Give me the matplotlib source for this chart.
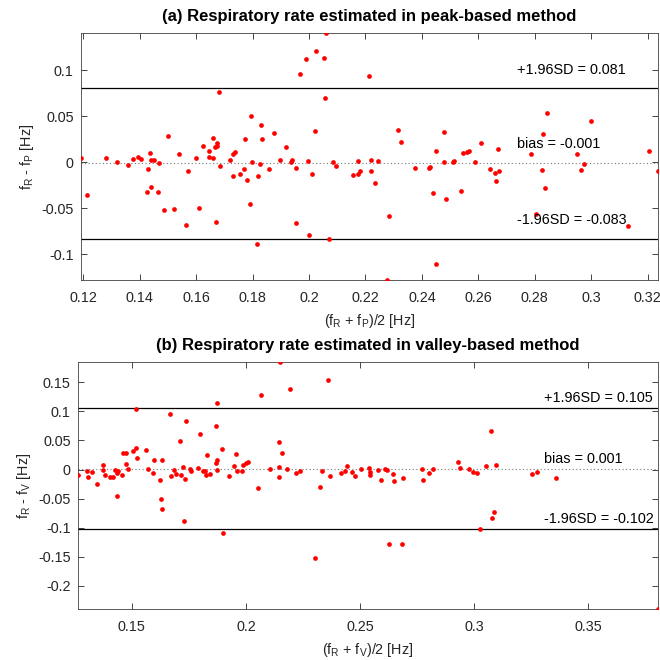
import matplotlib
matplotlib.use("Agg")
import matplotlib.pyplot as plt
from matplotlib.ticker import FuncFormatter

plt.rcParams['font.family'] = ['Liberation Sans', 'DejaVu Sans']
plt.rcParams['mathtext.fontset'] = 'custom'
plt.rcParams['mathtext.rm'] = 'Liberation Sans'
plt.rcParams['mathtext.it'] = 'Liberation Sans'

# ---- (a) peak-based ----
peak_mean = [0.1191, 0.1214, 0.128, 0.132, 0.136, 0.1375, 0.1395, 0.1404, 0.1435, 0.1429,
             0.144, 0.145, 0.1425, 0.144, 0.1464, 0.147, 0.1485, 0.15, 0.152, 0.1539,
             0.157, 0.1564, 0.16, 0.1609, 0.1624, 0.1644, 0.1645, 0.166, 0.166, 0.1668,
             0.1674, 0.1675, 0.168, 0.1684, 0.1669, 0.172, 0.173, 0.1739, 0.173, 0.1754,
             0.1769, 0.1779, 0.1773, 0.1794, 0.1799, 0.179, 0.1829, 0.1834, 0.1825, 0.1819,
             0.1814, 0.1859, 0.1875, 0.1897, 0.1919, 0.1935, 0.194, 0.1955, 0.1955, 0.1969,
             0.1989, 0.1995, 0.201, 0.2, 0.202, 0.2025, 0.2054, 0.206, 0.2055, 0.2085,
             0.2095, 0.207, 0.2156, 0.2175, 0.2175, 0.218, 0.2214, 0.222, 0.222, 0.2235,
             0.2245, 0.2284, 0.2275, 0.2314, 0.2325, 0.2374, 0.2425, 0.243, 0.2439, 0.2449,
             0.245, 0.2478, 0.2479, 0.2484, 0.2509, 0.2515, 0.254, 0.2545, 0.256, 0.2568,
             0.2589, 0.2609, 0.264, 0.2659, 0.2674, 0.2664, 0.267, 0.2788, 0.2804, 0.2824,
             0.2828, 0.2835, 0.2844, 0.2949, 0.2965, 0.2974, 0.2999, 0.3129, 0.3204, 0.3238]
peak_diff = [0.0043, -0.036, 0.0043, 0.0004, -0.0036, 0.0033, 0.0054, 0.0033, 0.0095, -0.0076,
             0.0022, 0.0022, -0.0326, -0.0275, -0.0322, -0.0014, -0.0522, 0.0283, -0.0511, 0.0084,
             -0.0094, -0.0685, 0.0043, -0.0496, 0.0174, 0.0116, 0.0054, 0.0043, 0.0265, 0.0163,
             0.021, 0.0174, 0.076, -0.0047, -0.065, 0.0022, 0.0084, 0.0105, -0.0152, -0.0126,
             -0.0076, -0.0196, 0.0254, 0.0497, 0.0004, -0.0452, 0.0406, 0.0254, -0.0025, -0.0155,
             -0.0884, -0.0076, 0.0315, 0.0022, 0.0163, -0.0003, 0.0022, -0.0065, -0.0663, 0.0961,
             0.112, 0.0015, -0.0134, -0.0793, 0.0341, 0.121, 0.113, 0.1399, 0.0692, -0.0003,
             -0.0047, -0.0833, -0.0145, 0.0015, -0.0126, -0.0094, 0.0932, 0.0026, -0.0094, -0.0224,
             0.0015, -0.0583, -0.128, 0.0352, 0.0214, -0.0065, -0.0065, -0.0054, -0.0333, 0.0124,
             -0.1109, 0.0323, 0.0004, -0.0402, 0.0004, 0.0015, -0.0311, 0.0095, 0.0105, 0.0124,
             0.0004, 0.0207, -0.0076, -0.0115, -0.0101, -0.0202, 0.0146, 0.0087, -0.0561, -0.0083,
             0.0304, -0.0283, 0.0533, 0.0087, -0.0083, -0.0025, 0.0442, -0.0691, 0.0116, -0.0101]
peak_bias, peak_upper, peak_lower = -0.001, 0.081, -0.083

# ---- (b) valley-based ----
valley_mean = [0.1263, 0.215, 0.1519, 0.1872, 0.2068, 0.1304, 0.1309, 0.1325, 0.1348, 0.1373,
               0.1373, 0.1383, 0.1404, 0.1418, 0.1428, 0.1434, 0.1439, 0.1434, 0.1459, 0.1463,
               0.1474, 0.1474, 0.1485, 0.1504, 0.1519, 0.1525, 0.1564, 0.157, 0.1593, 0.1599,
               0.1624, 0.1627, 0.1634, 0.1634, 0.1668, 0.1673, 0.1684, 0.1694, 0.1713, 0.1715,
               0.1725, 0.1733, 0.1738, 0.1729, 0.1754, 0.1758, 0.1789, 0.1799, 0.1814, 0.1822,
               0.1824, 0.1829, 0.1843, 0.1868, 0.1868, 0.1874, 0.1875, 0.1894, 0.1899, 0.1925,
               0.1948, 0.1958, 0.196, 0.1984, 0.1989, 0.2, 0.2009, 0.2055, 0.2104, 0.2145,
               0.2147, 0.2147, 0.2193, 0.2359, 0.2158, 0.218, 0.222, 0.2236, 0.2324, 0.2334,
               0.2369, 0.2304, 0.2418, 0.2433, 0.2444, 0.2464, 0.248, 0.2504, 0.2539, 0.2544,
               0.2544, 0.2579, 0.2593, 0.261, 0.2619, 0.2628, 0.2645, 0.265, 0.2684, 0.269,
               0.277, 0.2775, 0.2804, 0.2818, 0.2929, 0.2939, 0.2977, 0.2994, 0.3014, 0.3026,
               0.3053, 0.3074, 0.3094, 0.3078, 0.3088, 0.3253, 0.3275, 0.336, 0.3804]
valley_diff = [-0.0097, 0.1844, 0.1036, 0.1146, 0.1277, -0.0017, -0.0132, -0.004, -0.0252, 0.0086,
               0.0, -0.0097, -0.0137, -0.0132, -0.0011, -0.0063, -0.0023, -0.0464, -0.0086, 0.028,
               0.028, 0.0097, 0.0017, 0.0321, 0.0373, 0.0201, 0.0338, 0.0005, -0.0063, 0.0172,
               -0.0183, -0.0515, 0.016, -0.0687, 0.095, -0.012, 0.0, -0.008, 0.0498, -0.0097,
               0.004, -0.0166, 0.083, -0.0893, 0.0017, -0.0034, 0.0029, 0.0613, -0.0017, -0.0017,
               -0.0097, 0.0252, -0.008, 0.075, 0.0109, 0.016, -0.0006, 0.0361, -0.1094, -0.012,
               0.0069, 0.0269, -0.0029, -0.0023, 0.0086, 0.0109, 0.0126, -0.032, 0.0017, 0.0481,
               0.0046, -0.0132, 0.1386, 0.1534, 0.0287, 0.0005, -0.0052, -0.0023, -0.0298, -0.0023,
               -0.0109, -0.1523, -0.0052, -0.0023, 0.0063, -0.0046, -0.0109, 0.0017, 0.0029, -0.0046,
               -0.0086, -0.0011, -0.0183, 0.0017, -0.0011, -0.1277, -0.008, -0.0195, -0.1289, -0.0149,
               0.0005, -0.0183, -0.0063, 0.0005, 0.0126, 0.0029, 0.0012, -0.004, -0.0063, -0.1026,
               0.0063, 0.0665, 0.008, -0.0837, -0.0733, -0.008, -0.004, -0.0149, -0.2405]
valley_bias, valley_upper, valley_lower = 0.001, 0.105, -0.102

peak_xticks = [0.12, 0.14, 0.16, 0.18, 0.2, 0.22, 0.24, 0.26, 0.28, 0.3, 0.32]
peak_yticks = [-0.1, -0.05, 0, 0.05, 0.1]
valley_xticks = [0.15, 0.2, 0.25, 0.3, 0.35]
valley_yticks = [-0.2, -0.15, -0.1, -0.05, 0, 0.05, 0.1, 0.15]

fig = plt.figure(figsize=(6.6, 6.6), dpi=100)
ax1 = fig.add_axes([0.1223, 0.5758, 0.8752, 0.3738])
ax2 = fig.add_axes([0.1177, 0.0768, 0.8788, 0.3742])

fmt = FuncFormatter(lambda v, p: ('%g' % round(v, 4)))
FS = 10.4
tcol = '#262626'

def style(ax, xticks, yticks):
    ax.set_xticks(xticks)
    ax.set_yticks(yticks)
    ax.xaxis.set_major_formatter(fmt)
    ax.yaxis.set_major_formatter(fmt)
    ax.tick_params(direction='in', length=4.5, width=0.6, top=True, right=True,
                   labelsize=FS, colors=tcol)
    ax.tick_params(axis='x', pad=8)
    ax.tick_params(axis='y', pad=5)
    for s in ax.spines.values():
        s.set_color('#404040')
        s.set_linewidth(0.6)

def panel(ax, xm, dd, bias, up, lo, xlim, ylim, tx, ty, title, xlabel, ylabel):
    ax.plot(xm, dd, 'o', color='red', ms=3.4, mec='none', zorder=3)
    ax.axhline(up, color='black', lw=0.9, zorder=2)
    ax.axhline(lo, color='black', lw=0.9, zorder=2)
    ax.axhline(bias, color='#777777', lw=0.8, ls=(0, (1, 2.2)), zorder=2)
    ax.set_xlim(*xlim)
    ax.set_ylim(*ylim)
    ax.text(tx, ty[0], '+1.96SD = %g' % up, fontsize=FS, color='black', va='center')
    ax.text(tx, ty[1], 'bias = %g' % bias, fontsize=FS, color='black', va='center')
    ax.text(tx, ty[2], '-1.96SD = %g' % lo, fontsize=FS, color='black', va='center')
    ax.set_title(title, fontsize=12, fontweight='bold', pad=9)
    ax.set_xlabel(xlabel, fontsize=FS, color=tcol, labelpad=5)
    ax.set_ylabel(ylabel, fontsize=FS, color=tcol, labelpad=4)

style(ax1, peak_xticks, peak_yticks)
style(ax2, valley_xticks, valley_yticks)

panel(ax1, peak_mean, peak_diff, peak_bias, peak_upper, peak_lower,
      (0.1191, 0.3238), (-0.128, 0.1399), 0.2736, (0.0997, 0.0192, -0.0626),
      '(a) Respiratory rate estimated in peak-based method',
      r'(f$_\mathregular{R}$ + f$_\mathregular{P}$)/2 [Hz]', r'f$_\mathregular{R}$ - f$_\mathregular{P}$ [Hz]')
panel(ax2, valley_mean, valley_diff, valley_bias, valley_upper, valley_lower,
      (0.1263, 0.3804), (-0.2405, 0.1844), 0.3306, (0.1225, 0.0184, -0.0847),
      '(b) Respiratory rate estimated in valley-based method',
      r'(f$_\mathregular{R}$ + f$_\mathregular{V}$)/2 [Hz]', r'f$_\mathregular{R}$ - f$_\mathregular{V}$ [Hz]')

fig.savefig('out.png', dpi=100)
